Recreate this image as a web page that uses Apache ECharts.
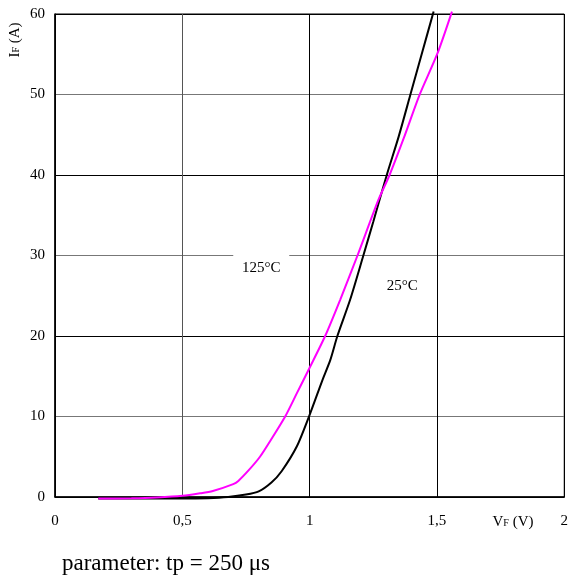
<!DOCTYPE html>
<html>
<head>
<meta charset="utf-8">
<script src="https://cdn.jsdelivr.net/npm/echarts@6/dist/echarts.min.js"></script>
<style>
  html, body { margin: 0; padding: 0; background: #fff; }
  #chart { width: 571px; height: 576px; }
</style>
</head>
<body>
<div id="chart"></div>
<script>
// Forward characteristic IF = f(VF), two junction temperatures
const xTicks = [0, 0.5, 1, 1.5, 2];
const yTicks = [0, 10, 20, 30, 40, 50, 60];

// 25 °C curve: [VF (V), IF (A)]
const vf25 = [0.17, 0.5, 0.6, 0.68, 0.75, 0.8, 0.85, 0.89, 0.95, 1.0, 1.05, 1.081, 1.109, 1.159, 1.211, 1.25, 1.303, 1.35, 1.395, 1.44, 1.487];
const if25 = [-0.2, -0.2, -0.15, 0.0, 0.3, 0.7, 1.8, 3.2, 6.3, 10.2, 14.5, 17.0, 20.0, 24.5, 30.0, 34.2, 40.0, 44.8, 49.9, 55.0, 60.3];

// 125 °C curve
const vf125 = [0.17, 0.3, 0.4, 0.5, 0.57, 0.62, 0.7, 0.72, 0.76, 0.805, 0.85, 0.904, 0.95, 0.999, 1.061, 1.12, 1.188, 1.27, 1.314, 1.37, 1.431, 1.502, 1.559];
const if125 = [-0.2, -0.15, -0.05, 0.15, 0.46, 0.75, 1.6, 2.0, 3.3, 5.0, 7.2, 10.0, 12.9, 16.0, 20.0, 24.5, 30.0, 36.9, 40.0, 44.6, 49.9, 55.1, 60.3];

const labels = [
  { text: '125°C', at: [0.81, 28.4], box: true },
  { text: '25°C', at: [1.364, 26.2], box: false }
];

const pair = (xs, ys) => xs.map((x, i) => [x, ys[i]]);
const serif = '"Liberation Serif", "Times New Roman", serif';

const chart = echarts.init(document.getElementById('chart'));
chart.setOption({
  animation: false,
  backgroundColor: '#fff',
  textStyle: { fontFamily: serif },
  grid: { left: 55, right: 6, top: 14, bottom: 79, show: true, borderColor: '#000', borderWidth: 1 },
  xAxis: {
    type: 'value', min: xTicks[0], max: xTicks[xTicks.length - 1], interval: 0.5,
    axisLine: { show: true, lineStyle: { color: '#000', width: 1.5 } },
    axisTick: { show: false },
    axisLabel: {
      color: '#000', fontFamily: serif, fontSize: 15, margin: 17,
      formatter: v => String(v).replace('.', ',')
    },
    splitLine: { show: true, lineStyle: { color: ['#000', '#555', '#000', '#000', '#000'], width: 1 } }
  },
  yAxis: {
    type: 'value', min: yTicks[0], max: yTicks[yTicks.length - 1], interval: 10,
    axisLine: { show: true, lineStyle: { color: '#000', width: 1.5 } },
    axisTick: { show: false },
    axisLabel: { color: '#000', fontFamily: serif, fontSize: 15, margin: 10 },
    splitLine: { show: true, lineStyle: { color: ['#000', '#777'], width: 1.2 } }
  },
  series: [
    {
      name: '125°C', type: 'line', data: pair(vf125, if125), showSymbol: false, clip: false,
      smooth: 0.25, lineStyle: { color: '#ff00ff', width: 2 }, z: 3
    },
    {
      name: '25°C', type: 'line', data: pair(vf25, if25), showSymbol: false, clip: false,
      smooth: 0.25, lineStyle: { color: '#000', width: 2 }, z: 2
    }
  ]
});

// Annotations placed in data coordinates
const graphics = [];
labels.forEach(l => {
  const p = chart.convertToPixel({ gridIndex: 0 }, l.at);
  if (l.box) {
    graphics.push({ type: 'rect', shape: { x: p[0] - 28, y: p[1] - 14, width: 56, height: 24 }, style: { fill: '#fff' }, z: 5 });
  }
  graphics.push({
    type: 'text', x: p[0], y: p[1], z: 6,
    style: { text: l.text, fill: '#000', font: '15px ' + serif, align: 'center', verticalAlign: 'middle' }
  });
});

// Axis names with subscripts
const bottomY = chart.convertToPixel({ gridIndex: 0 }, [0, 0])[1];
graphics.push({
  type: 'text', x: 513, y: bottomY + 25, z: 6,
  style: {
    text: '{m|V}{s|F}{m| (V)}', align: 'center', verticalAlign: 'middle',
    rich: { m: { fontFamily: serif, fontSize: 15, fill: '#000' }, s: { fontFamily: serif, fontSize: 10, fill: '#000', padding: [3, 0, 0, 0] } }
  }
});
graphics.push({
  type: 'text', x: 15, y: 40, rotation: Math.PI / 2, z: 6,
  style: {
    text: '{m|I}{s|F}{m| (A)}', align: 'center', verticalAlign: 'middle',
    rich: { m: { fontFamily: serif, fontSize: 15, fill: '#000' }, s: { fontFamily: serif, fontSize: 10, fill: '#000', padding: [3, 0, 0, 0] } }
  }
});
graphics.push({
  type: 'text', x: 62, y: 564, z: 6,
  style: { text: 'parameter: tp = 250 μs', fill: '#000', font: '23px ' + serif, align: 'left', verticalAlign: 'middle' }
});

chart.setOption({ graphic: graphics });
</script>
</body>
</html>
